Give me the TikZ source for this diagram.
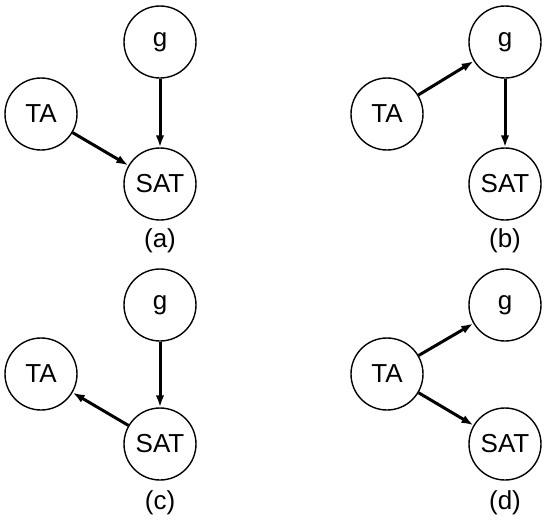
\documentclass[tikz,border=0pt]{standalone}
\usepackage{fontspec}
\setmainfont{Liberation Sans}
\usetikzlibrary{arrows.meta}
\tikzset{
  var/.style={circle,draw,line width=1.4pt,minimum size=72pt,inner sep=0pt,font=\fontsize{26}{30}\selectfont},
  panellabel/.style={font=\fontsize{26}{30}\selectfont},
  edge/.style={line width=3pt,-{Latex[length=12pt,width=8.5pt]}}
}
\begin{document}
\begin{tikzpicture}[x=1pt,y=-1pt]
\useasboundingbox (0,0) rectangle (550,523);
% (a)
\node[var] (ga) at (160,42) {g};
\node[var] (taa) at (41,114) {TA};
\node[var] (sata) at (160,184) {SAT};
\node[panellabel] (la) at (160,241) {(a)};
\draw[edge] (ga) -- (sata);
\draw[edge] (taa) -- (sata);
% (b)
\node[var] (gb) at (505,42) {g};
\node[var] (tab) at (387,114) {TA};
\node[var] (satb) at (505,184) {SAT};
\node[panellabel] (lb) at (505,241) {(b)};
\draw[edge] (tab) -- (gb);
\draw[edge] (gb) -- (satb);
% (c)
\node[var] (gc) at (160,305) {g};
\node[var] (tac) at (41,374) {TA};
\node[var] (satc) at (160,444) {SAT};
\node[panellabel] (lc) at (160,503) {(c)};
\draw[edge] (gc) -- (satc);
\draw[edge] (satc) -- (tac);
% (d)
\node[var] (gd) at (505,305) {g};
\node[var] (tad) at (387,374) {TA};
\node[var] (satd) at (505,444) {SAT};
\node[panellabel] (ld) at (505,503) {(d)};
\draw[edge] (tad) -- (gd);
\draw[edge] (tad) -- (satd);
\end{tikzpicture}
\end{document}
